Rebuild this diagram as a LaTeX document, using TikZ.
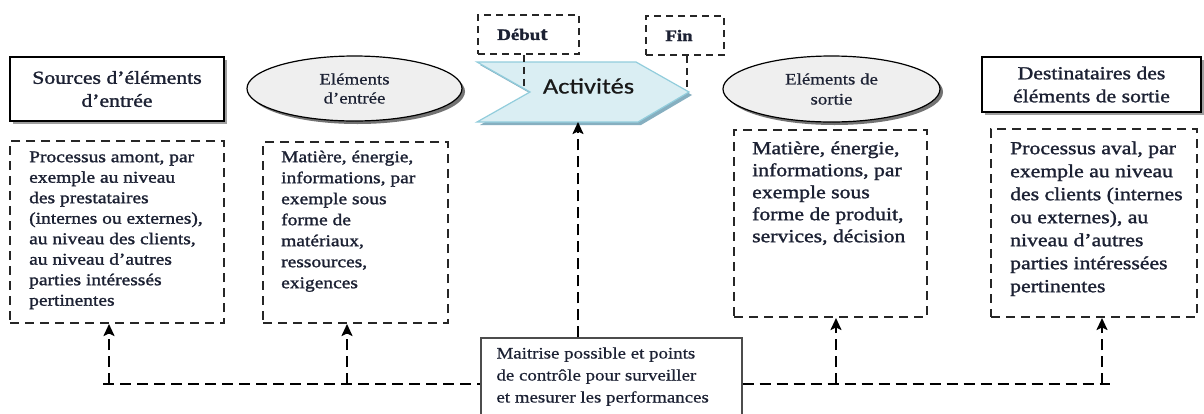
\documentclass[tikz,border=0pt]{standalone}
\usepackage{fontspec}
\setmainfont{Liberation Serif}[FakeStretch=1.18, FakeBold=1.4]
\newfontfamily\lightserif{Liberation Serif}[FakeStretch=1.18, FakeBold=0.5]
\newfontfamily\actfont{Carlito}[FakeStretch=1.2, FakeBold=0.6]
\usetikzlibrary{arrows.meta,shapes.geometric,shadows}

\definecolor{ink}{HTML}{1C2133}
\definecolor{dashgray}{HTML}{262626}
\definecolor{actfill}{HTML}{DAEEF3}
\definecolor{actline}{HTML}{92CDDC}
\definecolor{actshade}{HTML}{86AFC0}
\definecolor{ovalfill}{HTML}{EFEFEF}

\tikzset{
  headbox/.style={draw=black, line width=1.2pt, fill=white, inner sep=0pt, align=center, text=ink,
    general shadow={fill=gray!75, shadow xshift=3pt, shadow yshift=-3pt}},
  oval/.style={ellipse, draw=black, line width=1.2pt, fill=ovalfill, inner sep=0pt, align=center, text=ink,
    general shadow={fill=black!55, shadow xshift=3pt, shadow yshift=-3pt}},
  dbox/.style={draw=dashgray, line width=2pt, dash pattern=on 9pt off 6pt, inner sep=0pt},
  btext/.style={anchor=north west, inner sep=0pt, align=left, text=ink},
  tagbox/.style={draw=dashgray, line width=1.7pt, dash pattern=on 7pt off 5pt, inner sep=0pt,
    font=\bfseries\fontsize{16}{16}\selectfont, text=ink},
  tagline/.style={draw=dashgray, line width=1.7pt, dash pattern=on 7pt off 5pt},
  link/.style={draw=black, line width=2pt, dash pattern=on 11pt off 6pt},
  uparrow/.style={link, -{Stealth[length=12pt,width=11pt,inset=2.5pt]}},
}

\begin{document}
\begin{tikzpicture}[x=1pt,y=-1pt]
\useasboundingbox (0,0) rectangle (1204,413);
\fill[white] (0,0) rectangle (1204,413);
\clip (0,0) rectangle (1204,413);

% --- upper row: sources, inputs, activities, outputs, recipients
\node[headbox, minimum width=214pt, minimum height=64pt, font=\fontsize{18.4}{23}\selectfont]
  (src) at (117,89) {Sources d’éléments\\d’entrée};
\node[oval, minimum width=215pt, minimum height=65pt, font=\lightserif\fontsize{16}{19}\selectfont]
  (inp) at (354.5,88.5) {Eléments\\d’entrée};
\node[oval, minimum width=217pt, minimum height=66pt, font=\lightserif\fontsize{16}{20}\selectfont]
  (outp) at (831.5,89) {Eléments de\\sortie};
\node[headbox, minimum width=219pt, minimum height=55pt, font=\fontsize{18.4}{23}\selectfont]
  (dst) at (1091.5,84.5) {Destinataires des\\éléments de sortie};

% activity arrow shape
\coordinate (aTL) at (477,62);
\coordinate (aTR) at (636,62);
\coordinate (aTip) at (689,92);
\coordinate (aBR) at (638,122);
\coordinate (aBL) at (477,122);
\coordinate (aNotch) at (530,92);
\coordinate (aBot) at (578,122);
\fill[actshade] ([shift={(3pt,-3pt)}]aTL) -- ([shift={(3pt,-3pt)}]aTR) -- ([shift={(3pt,-3pt)}]aTip)
  -- ([shift={(3pt,-3pt)}]aBR) -- ([shift={(3pt,-3pt)}]aBL) -- ([shift={(3pt,-3pt)}]aNotch) -- cycle;
\draw[actline, fill=actfill, line width=1.2pt, line join=miter]
  (aTL) -- (aTR) -- (aTip) -- (aBR) -- (aBL) -- (aNotch) -- cycle;
\node[font=\actfont\fontsize{22}{22}\selectfont, text=black!90] (act) at (588.5,86) {Activités};

% start / end tags
\node[tagbox, minimum width=101pt, minimum height=39pt] (deb) at (528.5,34.5)
  {Débu{\lightserif\fontsize{19}{19}\selectfont t}\hspace*{12pt}};
\node[tagbox, minimum width=78pt, minimum height=39pt] (fin) at (685,35.5) {Fin\hspace*{12pt}};
\coordinate (debEnd) at (524,90);
\coordinate (finEnd) at (687,90);
\draw[tagline] (deb.south -| debEnd) -- (debEnd);
\draw[tagline] (fin.south -| finEnd) -- (finEnd);

% --- dashed description boxes
\node[dbox, minimum width=214pt, minimum height=182pt] (boxA) at (117,232) {};
\node[btext, font=\fontsize{16.5}{20.5}\selectfont] (txtA) at ([xshift=20pt,yshift=-8pt]boxA.north west)
  {\rule{0pt}{14pt}Processus amont, par\\exemple au niveau\\des prestataires\\(internes ou externes),\\au niveau des clients,\\au niveau d’autres\\parties intéressés\\pertinentes};

\node[dbox, minimum width=185pt, minimum height=181pt] (boxB) at (355.5,232.5) {};
\node[btext, font=\fontsize{16.5}{21}\selectfont] (txtB) at ([xshift=19pt,yshift=-7pt]boxB.north west)
  {\rule{0pt}{14pt}Matière, énergie,\\informations, par\\exemple sous\\forme de\\matériaux,\\ressources,\\exigences};

\node[dbox, minimum width=193pt, minimum height=187pt] (boxC) at (830.5,223.5) {};
\node[btext, font=\fontsize{18.4}{22}\selectfont] (txtC) at ([xshift=19pt,yshift=-11pt]boxC.north west)
  {\rule{0pt}{14pt}Matière, énergie,\\informations, par\\exemple sous\\forme de produit,\\services, décision};

\node[dbox, minimum width=206pt, minimum height=188pt] (boxD) at (1094,223) {};
\node[btext, font=\fontsize{18.4}{23}\selectfont] (txtD) at ([xshift=20pt,yshift=-12pt]boxD.north west)
  {\rule{0pt}{14pt}Processus aval, par\\exemple au niveau\\des clients (internes\\ou externes), au\\niveau d’autres\\parties intéressées\\pertinentes};

% --- monitoring box
\node[draw=black!70, line width=1.4pt, fill=white, minimum width=261pt, minimum height=82pt, inner sep=0pt]
  (mai) at (611.5,379) {};
\node[btext, font=\lightserif\fontsize{16}{22}\selectfont] (txtM) at ([xshift=16pt,yshift=-7pt]mai.north west)
  {\rule{0pt}{14pt}Maitrise possible et points\\de contrôle pour surveiller\\et mesurer les performances};

% --- control connectors
\coordinate (jA) at (109,384);
\coordinate (jB) at (347,384);
\coordinate (jC) at (836,384);
\coordinate (jD) at (1102,384);
\draw[link] ([xshift=-6pt]jA) -- (jA -| mai.west);
\draw[link] (jA -| mai.east) -- ([xshift=8pt]jD);
\draw[uparrow] (jA) -- (jA |- boxA.south);
\draw[uparrow] (jB) -- (jB |- boxB.south);
\draw[uparrow] (jC) -- (jC |- boxC.south);
\draw[uparrow] (jD) -- (jD |- boxD.south);
\draw[uparrow] (aBot |- mai.north) -- (aBot);
\end{tikzpicture}
\end{document}
